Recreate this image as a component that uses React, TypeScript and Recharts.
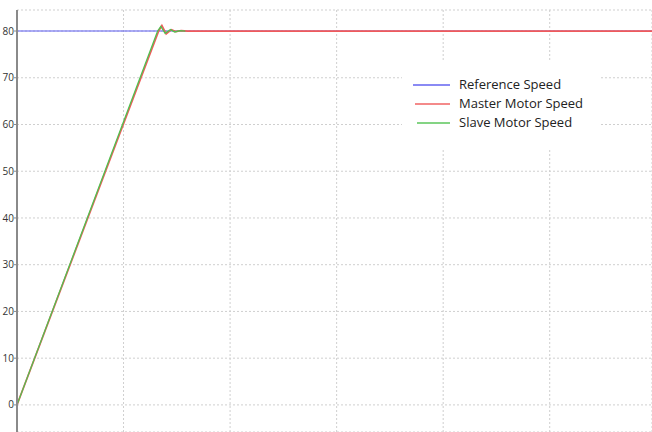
import { LineChart, Line, XAxis, YAxis, CartesianGrid } from "recharts"

// time (s) and speed samples
const refTime = [0, 5.96]
const refSpeed = [80, 80]

const masterTime = [0, 1.33, 1.36, 1.40, 1.45, 1.49, 1.54, 1.60, 5.96]
const masterSpeed = [0, 80, 81.2, 79.4, 80.3, 79.9, 80.1, 80, 80]

const slaveTime = [0, 1.32, 1.35, 1.39, 1.44, 1.48, 1.53, 1.58]
const slaveSpeed = [0, 80, 81.0, 79.5, 80.3, 79.8, 80.1, 80]

const yTicks = [0, 10, 20, 30, 40, 50, 60, 70, 80]
const xTicks = [0, 1, 2, 3, 4, 5]

const SERIES = [
    { name: "Reference Speed", color: "#5a5af0", soft: "#8a8af4" },
    { name: "Master Motor Speed", color: "#f05a5a", soft: "#f48a8a" },
    { name: "Slave Motor Speed", color: "#50c050", soft: "#84d484" },
]

const toRows = (t: number[], v: number[]) => t.map((x, i) => ({ t: x, v: v[i] }))

function LegendBox() {
    return (
        <div style={{
            position: "absolute", left: 402, top: 62, width: 199, height: 86,
            background: "#fff", boxSizing: "border-box", paddingTop: 13,
        }}>
            {SERIES.map((s, i) => (
                <div key={s.name} style={{ position: "relative", height: 19 }}>
                    <div style={{ position: "absolute", top: 9, left: 11 + i * 2, width: 37 - i * 2, height: 2, background: s.soft }} />
                    <span style={{ position: "absolute", left: 57, top: 0, lineHeight: "19px", fontFamily: "Open Sans", fontSize: 13, color: "#222" }}>{s.name}</span>
                </div>
            ))}
        </div>
    )
}

export default function App() {
    return (
        <div style={{ position: "absolute", left: 0, top: 0, width: 652, height: 432, background: "#fff" }}>
            <LineChart width={652} height={432} margin={{ top: 10, right: 0, bottom: 0, left: 0 }}>
                <CartesianGrid stroke="#cfcfcf" strokeDasharray="2 2" />
                <XAxis type="number" dataKey="t" domain={[0, 5.96]} ticks={xTicks} hide allowDuplicatedCategory={false} />
                <YAxis
                    type="number"
                    domain={[-5.8, 84.5]}
                    ticks={yTicks}
                    width={17}
                    axisLine={{ stroke: "#8a8a8a", strokeWidth: 2 }}
                    tickLine={{ stroke: "#8a8a8a" }}
                    tickSize={3}
                    tickMargin={0}
                    tick={{ fontSize: 10, fill: "#333", fontFamily: "Open Sans" }}
                />
                <Line data={toRows(refTime, refSpeed)} dataKey="v" name="Reference Speed" stroke={SERIES[0].color} strokeWidth={1.1} dot={false} isAnimationActive={false} />
                <Line data={toRows(masterTime, masterSpeed)} dataKey="v" name="Master Motor Speed" stroke={SERIES[1].color} strokeWidth={1.7} dot={false} isAnimationActive={false} />
                <Line data={toRows(slaveTime, slaveSpeed)} dataKey="v" name="Slave Motor Speed" stroke={SERIES[2].color} strokeWidth={1.3} dot={false} isAnimationActive={false} />
            </LineChart>
            <LegendBox />
        </div>
    )
}
